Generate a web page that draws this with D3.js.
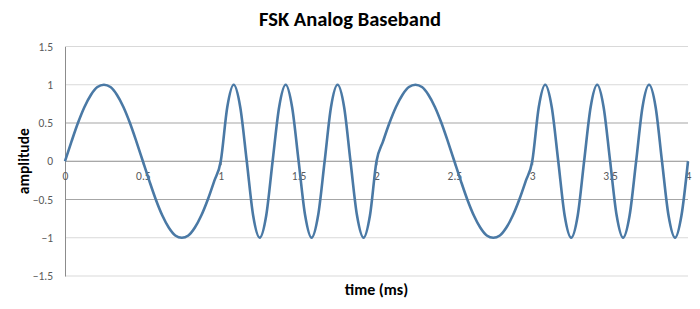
<!DOCTYPE html>
<html>
<head>
<meta charset="utf-8">
<script src="https://cdn.jsdelivr.net/npm/d3@7"></script>
<style>
  body { margin: 0; background: #fff; }
  svg { display: block; }
</style>
</head>
<body>
<script>
// time in ms, sampled every 1/24 ms
let timeMs = [
  0, 0.042, 0.083, 0.125, 0.167, 0.208, 0.25, 0.292, 0.333, 0.375, 0.417, 0.458,
  0.5, 0.542, 0.583, 0.625, 0.667, 0.708, 0.75, 0.792, 0.833, 0.875, 0.917, 0.958,
  1, 1.042, 1.083, 1.125, 1.167, 1.208, 1.25, 1.292, 1.333, 1.375, 1.417, 1.458,
  1.5, 1.542, 1.583, 1.625, 1.667, 1.708, 1.75, 1.792, 1.833, 1.875, 1.917, 1.958,
  2, 2.042, 2.083, 2.125, 2.167, 2.208, 2.25, 2.292, 2.333, 2.375, 2.417, 2.458,
  2.5, 2.542, 2.583, 2.625, 2.667, 2.708, 2.75, 2.792, 2.833, 2.875, 2.917, 2.958,
  3, 3.042, 3.083, 3.125, 3.167, 3.208, 3.25, 3.292, 3.333, 3.375, 3.417, 3.458,
  3.5, 3.542, 3.583, 3.625, 3.667, 3.708, 3.75, 3.792, 3.833, 3.875, 3.917, 3.958,
  4
];

let amplitude = [
  // 0 - 1 ms (slow)
  0, 0.26, 0.5, 0.71, 0.87, 0.97, 1, 0.97, 0.87, 0.71, 0.5, 0.26,
  0, -0.26, -0.5, -0.71, -0.87, -0.97, -1, -0.97, -0.87, -0.71, -0.5, -0.26,
  // 1 - 2 ms (fast)
  0, 0.71, 1, 0.71, 0, -0.71, -1, -0.71, 0, 0.71, 1, 0.71,
  0, -0.71, -1, -0.71, 0, 0.71, 1, 0.71, 0, -0.71, -1, -0.71,
  // 2 - 3 ms (slow)
  0, 0.26, 0.5, 0.71, 0.87, 0.97, 1, 0.97, 0.87, 0.71, 0.5, 0.26,
  0, -0.26, -0.5, -0.71, -0.87, -0.97, -1, -0.97, -0.87, -0.71, -0.5, -0.26,
  // 3 - 4 ms (fast)
  0, 0.71, 1, 0.71, 0, -0.71, -1, -0.71, 0, 0.71, 1, 0.71,
  0, -0.71, -1, -0.71, 0, 0.71, 1, 0.71, 0, -0.71, -1, -0.71,
  0
];

let xTicks = [0, 0.5, 1, 1.5, 2, 2.5, 3, 3.5, 4];
let yTicks = [-1.5, -1, -0.5, 0, 0.5, 1, 1.5];

let w = 700;
let h = 309;
let plotLeft = 65, plotRight = 688, plotTop = 46.5, plotBottom = 276;
let labelFont = "Carlito, Lato, 'Open Sans', sans-serif";

const svg = d3.select('body')
    .append('svg')
    .attr('width', w)
    .attr('height', h)
    .style("background-color", "white");

const xScale = d3.scaleLinear()
    .domain([0, 4])
    .range([plotLeft, plotRight]);

const yScale = d3.scaleLinear()
    .domain([-1.5, 1.5])
    .range([plotBottom, plotTop]);

// gridlines
svg.append("g")
    .selectAll("line")
    .data(yTicks.filter(d => d != 0))
    .enter()
    .append("line")
    .attr("x1", plotLeft)
    .attr("x2", plotRight)
    .attr("y1", d => yScale(d))
    .attr("y2", d => yScale(d))
    .attr("stroke", d => Math.abs(d) == 0.5 ? "#a6a6a6" : "#d9d9d9")
    .attr("stroke-width", 1.2);

// y axis
const yAxis = d3.axisLeft(yScale).tickValues(yTicks).tickSize(0).tickPadding(12).tickFormat(d3.format("~g"));
svg.append('g')
    .attr("transform", "translate(" + plotLeft + ",0)")
    .call(yAxis)
    .call(g => g.select(".domain").attr("stroke", "#8c8c8c"))
    .call(g => g.selectAll("text").attr("fill", "#595959").style("font-family", labelFont).style("font-size", "11.5px"));

// x axis sits at zero
const xAxis = d3.axisBottom(xScale).tickValues(xTicks).tickSize(4).tickPadding(7).tickFormat(d3.format("~g"));
svg.append("g")
    .attr("transform", "translate(0," + yScale(0) + ")")
    .call(xAxis)
    .call(g => g.select(".domain").attr("stroke", "#8c8c8c").attr("d", "M" + plotLeft + ",0H" + plotRight))
    .call(g => g.selectAll(".tick line").attr("stroke", "#8c8c8c"))
    .call(g => g.selectAll("text").attr("fill", "#595959").style("font-family", labelFont).style("font-size", "11.5px"));

// signal
const line = d3.line()
    .x((d, i) => xScale(timeMs[i]))
    .y(d => yScale(d))
    .curve(d3.curveMonotoneX);

svg.append("path")
    .datum(amplitude)
    .attr("d", line)
    .attr("fill", "none")
    .attr("stroke", "#4a79a5")
    .attr("stroke-width", 2.6)
    .attr("stroke-linejoin", "round");

// titles
svg.append("text")
    .attr("x", 350)
    .attr("y", 26)
    .attr("text-anchor", "middle")
    .style("font-family", labelFont)
    .style("font-weight", "bold")
    .style("font-size", "20.5px")
    .attr("fill", "#000")
    .text("FSK Analog Baseband");

svg.append("text")
    .attr("x", (plotLeft + plotRight) / 2)
    .attr("y", 295)
    .attr("text-anchor", "middle")
    .style("font-family", labelFont)
    .style("font-weight", "bold")
    .style("font-size", "16px")
    .text("time (ms)");

svg.append("text")
    .attr("transform", "translate(29," + yScale(0) + ") rotate(-90)")
    .attr("text-anchor", "middle")
    .style("font-family", labelFont)
    .style("font-weight", "bold")
    .style("font-size", "15.5px")
    .text("amplitude");
</script>
</body>
</html>
